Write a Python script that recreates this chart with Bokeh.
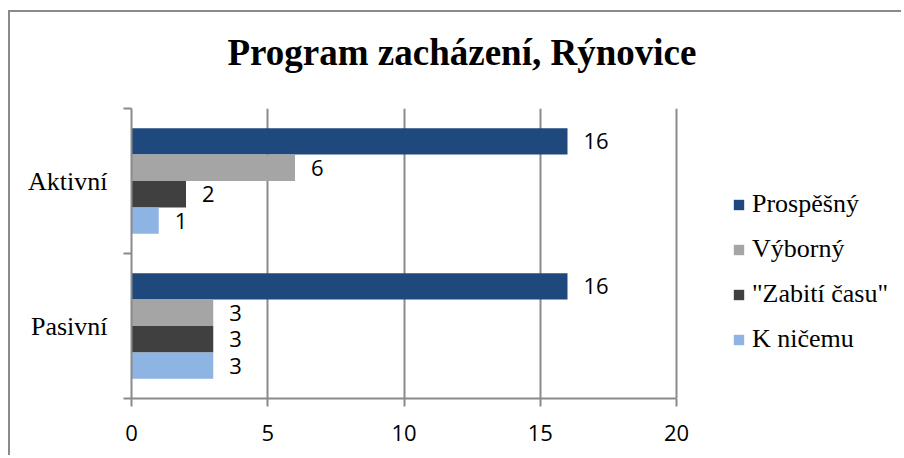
from bokeh.plotting import figure
from bokeh.models import (Range1d, LinearAxis, FixedTicker, Title,
                          Legend, LegendItem, ColumnDataSource)
from bokeh.transform import dodge
from bokeh.core.properties import value
from bokeh.embed import file_html
from bokeh.resources import INLINE

# ---- data ----
categories = ["Aktivní", "Pasivní"]
series_names = ["Prospěšný", "Výborný", "\"Zabití času\"", "K ničemu"]
prospesny = [16, 16]
vyborny = [6, 3]
zabiti = [2, 3]
k_nicemu = [1, 3]
x_ticks = [0, 5, 10, 15, 20]
colors = ["#1F497D", "#A5A5A5", "#404040", "#8EB4E3"]
title_text = "Program zacházení, Rýnovice"

series_values = [prospesny, vyborny, zabiti, k_nicemu]

GRAY = "#8a8a8a"
SERIF = "Liberation Serif"
SANS = "Open Sans"

ncat = len(categories)
# category slot centres (first category on top)
cat_pos = [ncat - 0.5 - k for k in range(ncat)]

W, H = 893, 445
FRAME_L, FRAME_T = 121, 95
FRAME_W, FRAME_H = 545, 291
VIEW_R = W - 4

# value axis spans 0..20 over FRAME_W px; the frame is widened to hold the legend
x_axis_max = x_ticks[-1]
x_view_max = x_axis_max * (VIEW_R - FRAME_L) / float(FRAME_W)

p = figure(width=W, height=H,
           y_range=Range1d(0, ncat),
           x_range=Range1d(0, x_view_max),
           output_backend="svg", toolbar_location=None, y_axis_location=None,
           min_border_left=FRAME_L, min_border_right=W - VIEW_R,
           min_border_top=FRAME_T, min_border_bottom=H - FRAME_T - FRAME_H)
p.styles = {"margin-left": "8px", "margin-top": "10px",
            "border-left": "2px solid " + GRAY, "border-top": "2px solid " + GRAY}
p.outline_line_color = None
p.background_fill_color = "white"
p.border_fill_color = "white"
p.ygrid.grid_line_color = None

# spacer between frame and title (nearest to the frame), then the title itself
p.add_layout(Title(text=" ", text_font_size="1px", standoff=16), "above")
p.add_layout(Title(text=title_text, align="left", offset=96,
                   text_font=SERIF, text_font_style="bold", text_font_size="37px",
                   text_color="black", standoff=34), "above")

# x axis
p.xaxis.bounds = (0, x_axis_max)
p.xaxis.ticker = FixedTicker(ticks=x_ticks)
p.xaxis.axis_line_color = GRAY
p.xaxis.axis_line_width = 2
p.xaxis.major_tick_line_color = GRAY
p.xaxis.major_tick_line_width = 2
p.xaxis.major_tick_out = 8
p.xaxis.major_tick_in = 0
p.xaxis.minor_tick_line_color = None
p.xaxis.major_label_text_font = SANS
p.xaxis.major_label_text_font_size = "22px"
p.xaxis.major_label_text_color = "black"
p.xaxis.major_label_standoff = 18
p.xgrid.ticker = FixedTicker(ticks=x_ticks)
p.xgrid.grid_line_color = GRAY
p.xgrid.grid_line_width = 2

# y axis: boundary ticks + category labels
bounds = list(range(ncat + 1))
tick_axis = LinearAxis(ticker=FixedTicker(ticks=bounds),
                       major_label_text_font_size="0px",
                       major_label_standoff=0,
                       axis_line_color=GRAY, axis_line_width=2,
                       major_tick_line_color=GRAY, major_tick_line_width=2,
                       major_tick_out=8, major_tick_in=0,
                       minor_tick_line_color=None)
tick_axis.major_label_overrides = {b: "" for b in bounds}
p.add_layout(tick_axis, "left")

cat_axis = LinearAxis(ticker=FixedTicker(ticks=cat_pos),
                      axis_line_color=None, major_tick_line_color=None,
                      minor_tick_line_color=None,
                      major_tick_out=0, major_tick_in=0,
                      major_label_text_font=SERIF,
                      major_label_text_font_size="26px",
                      major_label_text_color="black",
                      major_label_standoff=16)
cat_axis.major_label_overrides = {pos: c for pos, c in zip(cat_pos, categories)}
p.add_layout(cat_axis, "left")

# bars
n = len(series_names)
bar_h = 0.182
items = []
for i, (name, vals, col) in enumerate(zip(series_names, series_values, colors)):
    off = ((n - 1) / 2 - i) * bar_h
    src = ColumnDataSource(dict(pos=cat_pos, val=vals, lbl=[str(v) for v in vals]))
    r = p.hbar(y=dodge("pos", off), left=0, right="val", height=bar_h,
               source=src, fill_color=col, line_color=None)
    p.text(x="val", y=dodge("pos", off), text="lbl", source=src,
           x_offset=16, text_align="left", text_baseline="middle",
           text_font=value(SANS), text_font_size="22px", text_color="black")
    items.append(LegendItem(label=name, renderers=[r]))

legend = Legend(items=items, location=(601, 44), orientation="vertical",
                padding=0, margin=0, border_line_color=None, background_fill_alpha=0,
                glyph_width=13, glyph_height=13, label_height=30, spacing=15,
                label_standoff=7, label_text_font=SERIF, label_text_font_size="26px",
                label_text_color="black")
p.add_layout(legend)

open("out.html", "w").write(file_html(p, INLINE))
